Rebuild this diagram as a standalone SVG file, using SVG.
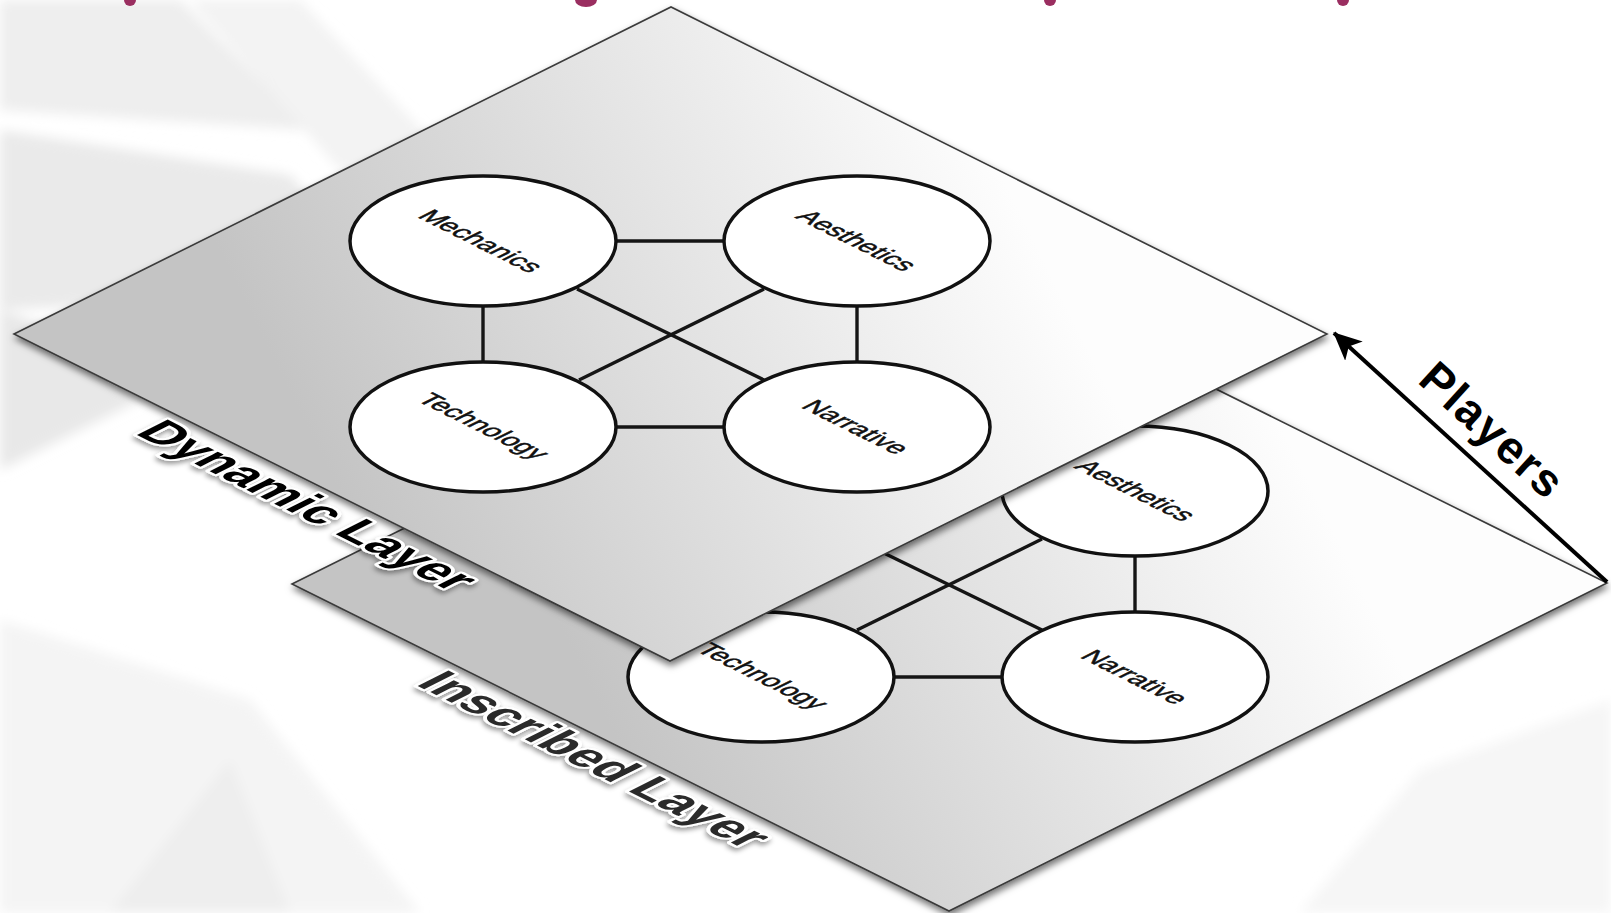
<svg xmlns="http://www.w3.org/2000/svg" width="1611" height="913" viewBox="0 0 1611 913">
  <style>
    .plane-edge { stroke: #3a3a3a; stroke-width: 1.6; stroke-linejoin: miter; }
    .node { fill: #ffffff; stroke: #111111; stroke-width: 3.5; }
    .conn { stroke: #151515; stroke-width: 3.4; fill: none; }
    .nlabel { font-family: "Liberation Sans", Arial, Helvetica, sans-serif; font-size: 26.5px; fill: #111111; stroke: #111111; stroke-width: 0.6; text-anchor: middle; }
    .layer-label { font-family: "Liberation Sans", Arial, Helvetica, sans-serif; font-size: 50px; font-weight: bold; text-anchor: middle; stroke: #ffffff; stroke-width: 6; stroke-linejoin: round; paint-order: stroke; }
    .title-frag { fill: #9a2e60; }
  </style>
  <defs>
    <linearGradient id="gTop" gradientUnits="userSpaceOnUse" x1="999" y1="170" x2="342" y2="497">
      <stop offset="0" stop-color="#fdfdfd"/>
      <stop offset="0.5" stop-color="#e1e1e1"/>
      <stop offset="1" stop-color="#c4c4c4"/>
    </linearGradient>
    <linearGradient id="gLow" gradientUnits="userSpaceOnUse" x1="1278" y1="420" x2="620" y2="747">
      <stop offset="0" stop-color="#fdfdfd"/>
      <stop offset="0.5" stop-color="#e1e1e1"/>
      <stop offset="1" stop-color="#c4c4c4"/>
    </linearGradient>
    <filter id="planeShadow" x="-10%" y="-10%" width="120%" height="125%">
      <feDropShadow dx="1" dy="4" stdDeviation="3.5" flood-color="#000000" flood-opacity="0.55"/>
    </filter>
    <filter id="textShadow" x="-10%" y="-20%" width="120%" height="150%">
      <feDropShadow dx="-1" dy="3" stdDeviation="2.5" flood-color="#000000" flood-opacity="0.4"/>
    </filter>
    <filter id="bgBlur" x="-20%" y="-20%" width="140%" height="140%">
      <feGaussianBlur stdDeviation="6"/>
    </filter>
    <marker id="arrowHead" markerUnits="userSpaceOnUse" markerWidth="32" markerHeight="28" refX="27" refY="13" orient="auto">
      <path d="M0,0 L28,13 L0,26 L7,13 Z" fill="#000000"/>
    </marker>
  </defs>

  <!-- background -->
  <rect x="0" y="0" width="1611" height="913" fill="#ffffff"/>
  <g id="background" filter="url(#bgBlur)">
    <polygon points="0,0 180,0 310,130 0,110" fill="#eeeeee"/>
    <polygon points="190,0 300,0 450,160 340,170" fill="#f3f3f3"/>
    <polygon points="0,130 290,175 390,290 0,310" fill="#eaeaea"/>
    <polygon points="0,310 60,330 140,400 0,470" fill="#e8e8e8"/>
    <polygon points="0,620 250,700 420,913 0,913" fill="#f4f4f4"/>
    <polygon points="110,913 230,760 290,913" fill="#eeeeee"/>
    <polygon points="1300,913 1420,770 1611,700 1611,913" fill="#f6f6f6"/>
  </g>

  <!-- cut-off title fragments -->
  <g id="title-fragments">
    <ellipse class="title-frag" cx="130" cy="0" rx="6" ry="6"/>
    <ellipse class="title-frag" cx="586" cy="0" rx="11" ry="7"/>
    <ellipse class="title-frag" cx="1050" cy="0" rx="6" ry="6"/>
    <ellipse class="title-frag" cx="1343" cy="0" rx="6" ry="6"/>
  </g>

  <!-- Inscribed (lower) layer -->
  <g id="plane-inscribed">
    <polygon class="plane-edge" points="292,584 950,257 1607,583 949,911" fill="url(#gLow)" filter="url(#planeShadow)"/>
  </g>
  <g id="connectors-inscribed">
    <line class="conn" x1="1135" y1="556" x2="1135" y2="612"/>
    <line class="conn" x1="894" y1="677" x2="1002" y2="677"/>
    <line class="conn" x1="855" y1="539" x2="1042" y2="630"/>
    <line class="conn" x1="1042" y1="539" x2="857" y2="630"/>
  </g>
  <g id="node-inscribed-aesthetics">
    <ellipse class="node" cx="1135" cy="491" rx="133" ry="65"/>
    <text class="nlabel" transform="matrix(0.894,0.447,-0.894,0.447,1135,491)" x="0" y="8">Aesthetics</text>
  </g>
  <g id="node-inscribed-technology">
    <ellipse class="node" cx="761" cy="677" rx="133" ry="65"/>
    <text class="nlabel" transform="matrix(0.894,0.447,-0.894,0.447,761,677)" x="0" y="7">Technology</text>
  </g>
  <g id="node-inscribed-narrative">
    <ellipse class="node" cx="1135" cy="677" rx="133" ry="65"/>
    <text class="nlabel" transform="matrix(0.894,0.447,-0.894,0.447,1135,677)" x="0" y="9">Narrative</text>
  </g>

  <!-- Dynamic (upper) layer -->
  <g id="plane-dynamic">
    <polygon class="plane-edge" points="14,334 671,7 1327,334 670,661" fill="url(#gTop)" filter="url(#planeShadow)"/>
  </g>
  <g id="connectors-dynamic">
    <line class="conn" x1="616" y1="241" x2="724" y2="241"/>
    <line class="conn" x1="483" y1="306" x2="483" y2="362"/>
    <line class="conn" x1="857" y1="306" x2="857" y2="362"/>
    <line class="conn" x1="616" y1="427" x2="724" y2="427"/>
    <line class="conn" x1="577" y1="289" x2="764" y2="380"/>
    <line class="conn" x1="764" y1="289" x2="579" y2="380"/>
  </g>
  <g id="node-dynamic-mechanics">
    <ellipse class="node" cx="483" cy="241" rx="133" ry="65"/>
    <text class="nlabel" transform="matrix(0.894,0.447,-0.894,0.447,481,241)" x="0" y="9">Mechanics</text>
  </g>
  <g id="node-dynamic-aesthetics">
    <ellipse class="node" cx="857" cy="241" rx="133" ry="65"/>
    <text class="nlabel" transform="matrix(0.894,0.447,-0.894,0.447,856,241)" x="0" y="8">Aesthetics</text>
  </g>
  <g id="node-dynamic-technology">
    <ellipse class="node" cx="483" cy="427" rx="133" ry="65"/>
    <text class="nlabel" transform="matrix(0.894,0.447,-0.894,0.447,482,427)" x="0" y="7">Technology</text>
  </g>
  <g id="node-dynamic-narrative">
    <ellipse class="node" cx="857" cy="427" rx="133" ry="65"/>
    <text class="nlabel" transform="matrix(0.894,0.447,-0.894,0.447,856,427)" x="0" y="9">Narrative</text>
  </g>

  <!-- layer labels -->
  <g id="label-dynamic" filter="url(#textShadow)">
    <text class="layer-label" fill="#000000" transform="matrix(0.894,0.447,-0.894,0.447,293,513)" x="0" y="0">Dynamic Layer</text>
  </g>
  <g id="label-inscribed" filter="url(#textShadow)">
    <text class="layer-label" fill="#2a2a2a" transform="matrix(0.894,0.447,-0.894,0.447,580,767)" x="0" y="0">Inscribed Layer</text>
  </g>

  <!-- Players arrow -->
  <g id="players">
    <line x1="1607" y1="582" x2="1334" y2="333" stroke="#000000" stroke-width="4" marker-end="url(#arrowHead)"/>
    <text transform="translate(1482,442) rotate(42.4)" x="0" y="0" font-family="Liberation Sans, Arial, Helvetica, sans-serif" font-size="46" font-weight="bold" letter-spacing="2" text-anchor="middle" fill="#000000">Players</text>
  </g>
</svg>
